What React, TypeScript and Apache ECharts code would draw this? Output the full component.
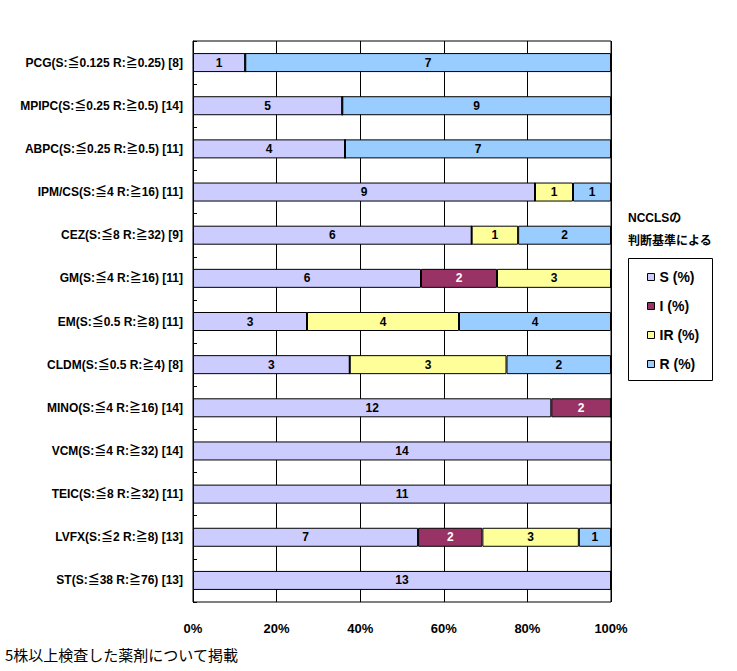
import React, { useEffect, useRef } from "react";
import * as echarts from "echarts";

const categories = [
  "PCG(S:≦0.125 R:≧0.25) [8]",
  "MPIPC(S:≦0.25 R:≧0.5) [14]",
  "ABPC(S:≦0.25 R:≧0.5) [11]",
  "IPM/CS(S:≦4 R:≧16) [11]",
  "CEZ(S:≦8 R:≧32) [9]",
  "GM(S:≦4 R:≧16) [11]",
  "EM(S:≦0.5 R:≧8) [11]",
  "CLDM(S:≦0.5 R:≧4) [8]",
  "MINO(S:≦4 R:≧16) [14]",
  "VCM(S:≦4 R:≧32) [14]",
  "TEIC(S:≦8 R:≧32) [11]",
  "LVFX(S:≦2 R:≧8) [13]",
  "ST(S:≦38 R:≧76) [13]",
];
const countS = [1, 5, 4, 9, 6, 6, 3, 3, 12, 14, 11, 7, 13];
const countI = [0, 0, 0, 0, 0, 2, 0, 0, 2, 0, 0, 2, 0];
const countIR = [0, 0, 0, 1, 1, 3, 4, 3, 0, 0, 0, 3, 0];
const countR = [7, 9, 7, 1, 2, 0, 4, 2, 0, 0, 0, 1, 0];
const xTickLabels = ["0%", "20%", "40%", "60%", "80%", "100%"];
const seriesNames = ["S (%)", "I (%)", "IR (%)", "R (%)"];
const seriesColors = ["#CCCCFF", "#993366", "#FFFF99", "#99CCFF"];
const labelColors = ["#000", "#fff", "#000", "#000"];

const FONT = "'Liberation Sans Narrow', 'Liberation Sans', Arial, 'Noto Sans CJK JP', sans-serif";

export default function App() {
  const ref = useRef<HTMLDivElement>(null);
  useEffect(() => {
    if (!ref.current) return;
    const chart = echarts.init(ref.current, null, { renderer: "svg" });
    const counts = [countS, countI, countIR, countR];
    const totals = categories.map((_, i) => counts.reduce((a, c) => a + c[i], 0));
    const series = counts.map((arr, si) => ({
      name: seriesNames[si],
      type: "bar",
      stack: "total",
      barWidth: 19,
      itemStyle: { color: seriesColors[si], borderColor: "#000", borderWidth: 1 },
      label: {
        show: true,
        position: "inside",
        color: labelColors[si],
        fontFamily: FONT,
        fontWeight: "bold",
        fontSize: 12,
        formatter: (p: any) => (arr[p.dataIndex] ? String(arr[p.dataIndex]) : ""),
      },
      data: arr.map((c, i) => (c / totals[i]) * 100),
    }));
    chart.setOption({
      animation: false,
      backgroundColor: "#fff",
      grid: {
        left: 193,
        top: 41,
        width: 418,
        height: 561,
        show: true,
        borderColor: "#000",
        borderWidth: 1,
      },
      xAxis: {
        type: "value",
        min: 0,
        max: 100,
        interval: 20,
        axisLine: { show: false },
        axisTick: { show: false },
        splitLine: { show: true, lineStyle: { color: "#000", width: 1 } },
        axisLabel: {
          margin: 20,
          color: "#000",
          fontFamily: FONT,
          fontWeight: "bold",
          fontSize: 13,
          formatter: (v: number) => xTickLabels[Math.round(v / 20)],
        },
      },
      yAxis: {
        type: "category",
        inverse: true,
        data: categories,
        axisLine: { show: true, lineStyle: { color: "#000" } },
        axisTick: { show: true, inside: true, length: 4, lineStyle: { color: "#000" } },
        axisLabel: {
          margin: 10,
          color: "#000",
          fontFamily: FONT,
          fontWeight: "bold",
          fontSize: 12,
        },
      },
      legend: {
        orient: "vertical",
        left: 647,
        top: 270,
        itemWidth: 7,
        itemHeight: 7,
        itemGap: 15,
        icon: "rect",
        padding: 0,
        itemStyle: { borderColor: "#000", borderWidth: 1 },
        textStyle: {
          color: "#000",
          fontFamily: FONT,
          fontWeight: "bold",
          fontSize: 14,
          lineHeight: 14,
        },
        data: seriesNames,
      },
      graphic: [
        {
          type: "rect",
          shape: { x: 628.5, y: 258.5, width: 84, height: 122 },
          style: { fill: "none", stroke: "#000", lineWidth: 1 },
        },
        {
          type: "text",
          left: 628,
          top: 206,
          style: {
            text: "NCCLSの\n判断基準による",
            fill: "#000",
            font: "bold 12px " + FONT,
            lineHeight: 23,
          },
        },
        {
          type: "text",
          left: 5,
          top: 647,
          style: {
            text: "5株以上検査した薬剤について掲載",
            fill: "#000",
            font: "15px 'Noto Sans CJK JP', sans-serif",
          },
        },
      ],
      series,
    });
    return () => chart.dispose();
  }, []);
  return (
    <div
      ref={ref}
      style={{ position: "fixed", left: 0, top: 0, width: 737, height: 671 }}
    />
  );
}
